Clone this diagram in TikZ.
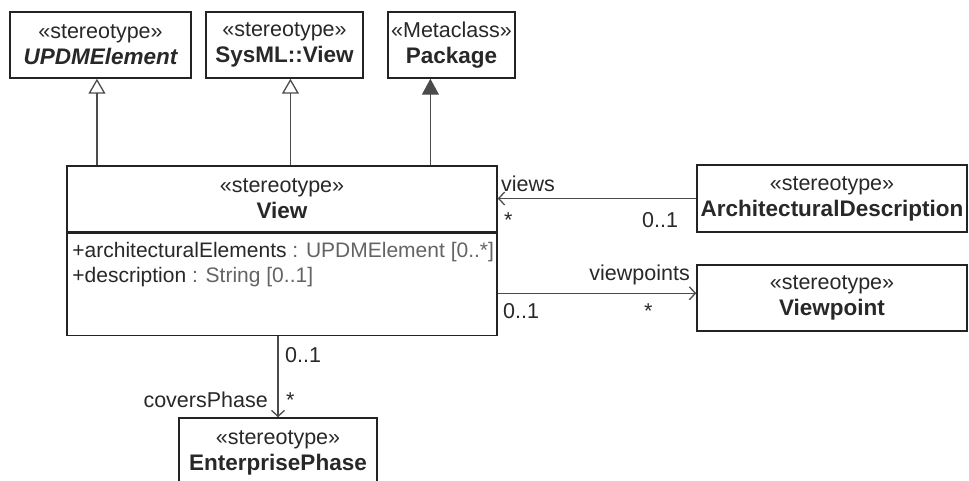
\documentclass[tikz,border=0pt]{standalone}
\usepackage{fontspec}
\setmainfont{Liberation Sans}
\usepackage{tikz}
\usetikzlibrary{arrows.meta, positioning}
\definecolor{umldark}{RGB}{35,35,35}
\definecolor{umlline}{RGB}{75,75,75}
\definecolor{umltext}{RGB}{40,40,40}
\definecolor{umlgrey}{RGB}{100,100,100}
\newcommand{\clsname}[1]{{\fontsize{22.5}{26}\selectfont\bfseries #1}}
\tikzset{
  classbox/.style={rectangle, draw=umldark, fill=white, line width=1.5pt,
    align=center, inner sep=0pt, text=umltext,
    font=\fontsize{21.5}{26}\selectfont},
  attrtext/.style={inner sep=0pt, align=left, text=umltext,
    font=\fontsize{21}{25}\selectfont},
  genarrow/.style={-{Triangle[open, length=15pt, width=17pt]}, line width=1.3pt, color=umlline},
  extarrow/.style={-{Triangle[length=16pt, width=17pt]}, line width=1.3pt, color=umlline},
  assoc/.style={-{Straight Barb[length=6pt, width=13pt]}, line width=1.3pt, color=umlline},
  mult/.style={inner sep=0pt, text=umltext, font=\fontsize{21.5}{26}\selectfont}
}

\begin{document}
\begin{tikzpicture}[x=1pt, y=-1pt]
  \useasboundingbox (0,0) rectangle (969,481);
  % parent classes
  \node[classbox, minimum width=181pt, minimum height=66pt] (updm) at (100.5,45) {«stereotype»\\\clsname{\itshape UPDMElement}};
  \node[classbox, minimum width=157pt, minimum height=66pt] (sysview) at (284.5,45) {«stereotype»\\\clsname{SysML::View}};
  \node[classbox, minimum width=127pt, minimum height=66pt] (pkg) at (451.5,45) {«Metaclass»\\\clsname{Package}};

  % the View class
  \node[classbox, minimum width=430pt, minimum height=66pt] (view) at (282,199) {«stereotype»\\\clsname{View}};
  \node[classbox, minimum width=430pt, minimum height=102pt, below=0pt of view] (viewattrs) {};
  \node[attrtext, anchor=north west] (members) at ([xshift=6pt, yshift=-9pt]viewattrs.north west)
    {+architecturalElements {\color{umlgrey}: UPDMElement [0..*]}\\+description {\color{umlgrey}: String [0..1]}};

  % associated classes
  \node[classbox, minimum width=270pt, minimum height=67pt] (archdesc) at (832,198.5) {«stereotype»\\\clsname{ArchitecturalDescription}};
  \node[classbox, minimum width=270pt, minimum height=66pt] (vpoint) at (832,298) {«stereotype»\\\clsname{Viewpoint}};
  \node[classbox, minimum width=198pt, minimum height=70pt] (phase) at (278,453) {«stereotype»\\\clsname{EnterprisePhase}};

  % generalisations
  \draw[genarrow] (updm.-96 |- view.north) -- (updm.-96);
  \draw[genarrow] (sysview.-80 |- view.north) -- (sysview.-80);
  \draw[extarrow] (pkg.-122 |- view.north) -- (pkg.-122);

  % associations
  \draw[assoc] (archdesc.west) -- (archdesc.west -| view.east);
  \draw[assoc] (vpoint.178 -| viewattrs.east) -- (vpoint.178);
  \draw[assoc] (phase.north |- viewattrs.south) -- (phase.north);

  % role names and multiplicities
  \node[mult, anchor=base west] (viewsrole) at (501,192) {views};
  \node[mult, anchor=base west] (viewsmany) at (504,228) {*};
  \node[mult, anchor=base west] (adone) at (642,228) {0..1};
  \node[mult, anchor=base east] (vprole) at (690,280) {viewpoints};
  \node[mult, anchor=base west] (vpmany) at (644,318) {*};
  \node[mult, anchor=base west] (vpone) at (503,318) {0..1};
  \node[mult, anchor=base west] (phaseone) at (285,362) {0..1};
  \node[mult, anchor=base east] (phaserole) at (268,407) {coversPhase};
  \node[mult, anchor=base west] (phasemany) at (286,407) {*};
\end{tikzpicture}
\end{document}
